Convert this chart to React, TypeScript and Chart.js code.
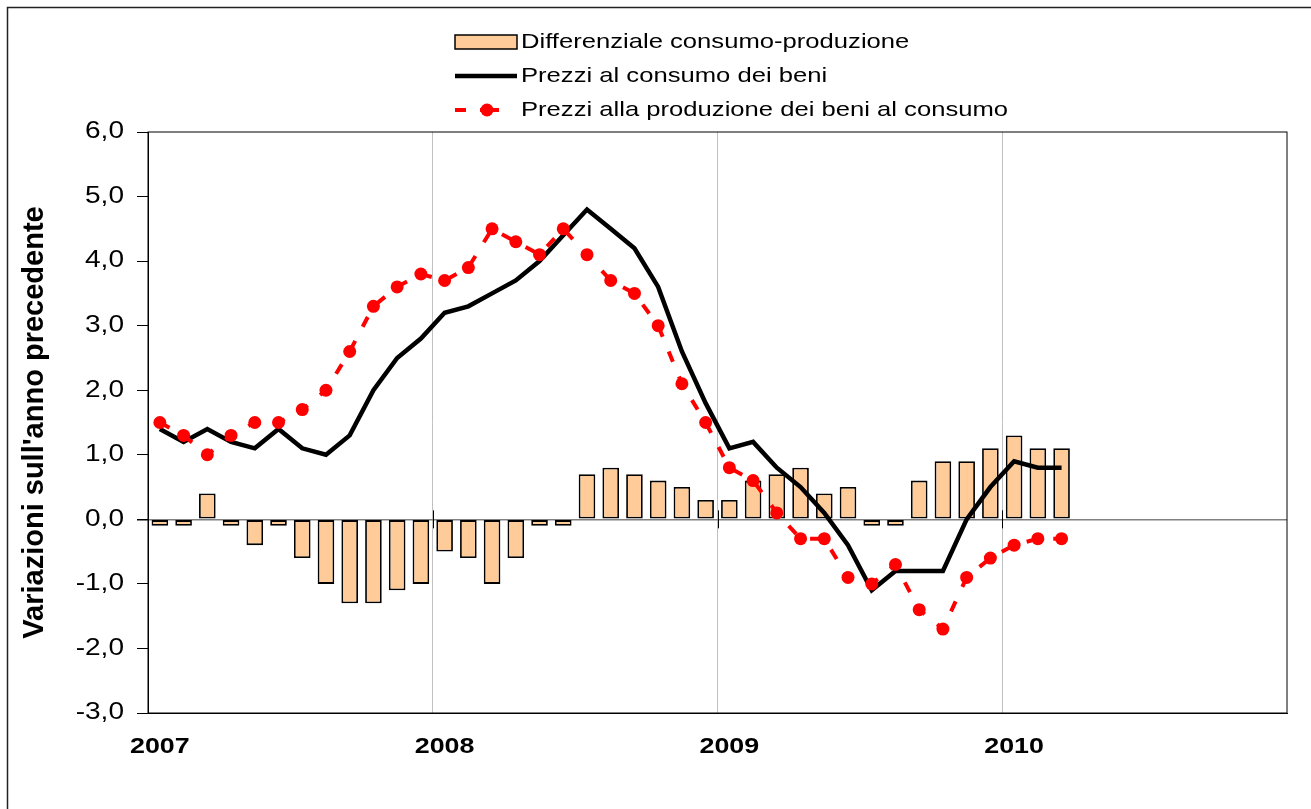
import React, { useEffect, useRef } from 'react';
import { Chart, registerables } from 'chart.js';

Chart.register(...registerables);

const W = 1311;
const H = 809;
const STRETCH = 1.22;
const FONT = '"Liberation Sans", Arial, Helvetica, sans-serif';

const yearLabels = ['2007', '2008', '2009', '2010'];
const monthNames = ['gen', 'feb', 'mar', 'apr', 'mag', 'giu', 'lug', 'ago', 'set', 'ott', 'nov', 'dic'];
const categories = yearLabels.map((y) => monthNames.map((m) => `${m} ${y}`)).reduce((a, b) => a.concat(b), [] as string[]);

const seriesNames = [
  'Differenziale consumo-produzione',
  'Prezzi al consumo dei beni',
  'Prezzi alla produzione dei beni al consumo',
];
const yTitle = "Variazioni sull'anno precedente";

const differenziale = [
  -0.1, -0.1, 0.4, -0.1, -0.4, -0.1, -0.6, -1.0, -1.3, -1.3, -1.1, -1.0,
  -0.5, -0.6, -1.0, -0.6, -0.1, -0.1, 0.7, 0.8, 0.7, 0.6, 0.5, 0.3,
  0.3, 0.6, 0.7, 0.8, 0.4, 0.5, -0.1, -0.1, 0.6, 0.9, 0.9, 1.1,
  1.3, 1.1, 1.1,
];

const prezziConsumo = [
  1.4, 1.2, 1.4, 1.2, 1.1, 1.4, 1.1, 1.0, 1.3, 2.0, 2.5, 2.8,
  3.2, 3.3, 3.5, 3.7, 4.0, 4.4, 4.8, 4.5, 4.2, 3.6, 2.6, 1.8,
  1.1, 1.2, 0.8, 0.5, 0.1, -0.4, -1.1, -0.8, -0.8, -0.8, 0.0, 0.5,
  0.9, 0.8, 0.8,
];

const prezziProduzione = [
  1.5, 1.3, 1.0, 1.3, 1.5, 1.5, 1.7, 2.0, 2.6, 3.3, 3.6, 3.8,
  3.7, 3.9, 4.5, 4.3, 4.1, 4.5, 4.1, 3.7, 3.5, 3.0, 2.1, 1.5,
  0.8, 0.6, 0.1, -0.3, -0.3, -0.9, -1.0, -0.7, -1.4, -1.7, -0.9, -0.6,
  -0.4, -0.3, -0.3,
];

const yMin = -3;
const yMax = 6;

// The reference picture is horizontally stretched; widen horizontal text to match.
function patchContext(ctx: any) {
  if (ctx.__stretched) return;
  ctx.__stretched = true;
  const orig = ctx.fillText;
  ctx.fillText = function (text: string, x: number, y: number, maxWidth?: number) {
    const t = this.getTransform();
    const rotated = Math.abs(t.b) > 1e-6 || Math.abs(t.c) > 1e-6;
    if (rotated) {
      if (maxWidth !== undefined && maxWidth !== null) return orig.call(this, text, x, y, maxWidth);
      return orig.call(this, text, x, y);
    }
    this.save();
    this.translate(x, y);
    this.scale(STRETCH, 1);
    orig.call(this, text, 0, 0);
    this.restore();
  };
}

const decorPlugin = {
  id: 'decor',
  beforeDatasetsDraw(chart: any) {
    const { ctx, chartArea: a, scales } = chart;
    const xs = scales.x;
    const ys = scales.y;
    const y0 = ys.getPixelForValue(0);
    ctx.save();
    ctx.strokeStyle = '#000';
    ctx.lineWidth = 1;
    ctx.strokeRect(a.left, a.top, a.right - a.left, a.bottom - a.top);
    for (let k = 1; k < yearLabels.length; k++) {
      const x = Math.round((xs.getPixelForValue(k * 12 - 1) + xs.getPixelForValue(k * 12)) / 2) + 0.5;
      ctx.beginPath();
      ctx.moveTo(x, y0 - 9);
      ctx.lineTo(x, y0 + 9);
      ctx.stroke();
    }
    ctx.restore();
  },
  afterDraw(chart: any) {
    const ctx = chart.ctx;
    ctx.save();
    ctx.strokeStyle = '#222';
    ctx.lineWidth = 1.5;
    ctx.strokeRect(7.5, 7.5, W + 40, H + 40);

    const lx0 = 455;
    const lx1 = 517;
    const tx = 521;
    const rows = [42, 76, 110];

    ctx.fillStyle = '#FFCC99';
    ctx.fillRect(lx0, rows[0] - 7, lx1 - lx0, 14);
    ctx.strokeStyle = '#000';
    ctx.lineWidth = 1.5;
    ctx.strokeRect(lx0, rows[0] - 7, lx1 - lx0, 14);

    ctx.beginPath();
    ctx.lineWidth = 4.5;
    ctx.strokeStyle = '#000';
    ctx.moveTo(lx0, rows[1]);
    ctx.lineTo(lx1, rows[1]);
    ctx.stroke();

    ctx.beginPath();
    ctx.strokeStyle = '#FF0000';
    ctx.lineWidth = 4;
    ctx.moveTo(lx0, rows[2]);
    ctx.lineTo(lx0 + 11, rows[2]);
    ctx.moveTo(480, rows[2]);
    ctx.lineTo(499, rows[2]);
    ctx.stroke();
    ctx.beginPath();
    ctx.fillStyle = '#FF0000';
    ctx.arc(487, rows[2], 6.5, 0, Math.PI * 2);
    ctx.fill();

    ctx.fillStyle = '#000';
    ctx.font = `21px ${FONT}`;
    ctx.textAlign = 'left';
    ctx.textBaseline = 'middle';
    seriesNames.forEach((n, i) => ctx.fillText(n, tx, rows[i]));
    ctx.restore();
  },
};

export default function App() {
  const ref = useRef<HTMLCanvasElement>(null);

  useEffect(() => {
    document.body.style.margin = '0';
    const canvas = ref.current!;
    const ctx = canvas.getContext('2d');
    patchContext(ctx);

    const chart = new Chart(canvas, {
      type: 'bar',
      data: {
        labels: categories,
        datasets: [
          {
            type: 'line',
            label: seriesNames[2],
            data: prezziProduzione,
            borderColor: '#FF0000',
            borderWidth: 4,
            borderDash: [11, 16],
            borderCapStyle: 'butt',
            pointRadius: 6.5,
            pointBackgroundColor: '#FF0000',
            pointBorderColor: '#FF0000',
            pointBorderWidth: 0,
            tension: 0,
            fill: false,
            order: 1,
          },
          {
            type: 'line',
            label: seriesNames[1],
            data: prezziConsumo,
            borderColor: '#000000',
            borderWidth: 4.5,
            borderJoinStyle: 'miter',
            pointRadius: 0,
            tension: 0,
            fill: false,
            order: 2,
          },
          {
            type: 'bar',
            label: seriesNames[0],
            data: differenziale,
            backgroundColor: '#FFCC99',
            borderColor: '#000000',
            borderWidth: 1.8,
            borderSkipped: false,
            categoryPercentage: 1,
            barPercentage: 0.7,
            order: 3,
          },
        ],
      },
      options: {
        animation: false,
        responsive: false,
        events: [],
        layout: { padding: { top: 132, right: 24, left: 0, bottom: 0 } },
        plugins: {
          legend: { display: false },
          tooltip: { enabled: false },
          title: { display: false },
        },
        scales: {
          x: {
            type: 'category',
            offset: true,
            grid: {
              offset: true,
              drawTicks: false,
              color: (c: any) =>
                typeof c.index === 'number' && c.index > 0 && c.index < categories.length && c.index % 12 === 0
                  ? '#C0C0C0'
                  : 'rgba(0,0,0,0)',
              lineWidth: 1,
            },
            border: { display: true, color: '#000', width: 1 },
            ticks: {
              autoSkip: false,
              maxRotation: 0,
              minRotation: 0,
              padding: 21,
              color: '#000',
              font: { family: FONT, size: 22, weight: 'bold' },
              callback: (_v: any, i: number) => (i % 12 === 0 ? yearLabels[i / 12] : ''),
            },
            afterFit: (s: any) => {
              s.height = 96;
              s.paddingLeft = 0;
              s.paddingRight = 0;
            },
          },
          y: {
            min: yMin,
            max: yMax,
            ticks: {
              stepSize: 1,
              padding: 13,
              color: '#000',
              font: { family: FONT, size: 23 },
              callback: (v: any) => Number(v).toFixed(1).replace('.', ','),
            },
            grid: {
              color: (c: any) => (c.tick && c.tick.value === 0 ? '#808080' : 'rgba(0,0,0,0)'),
              lineWidth: (c: any) => (c.tick && c.tick.value === 0 ? 1.5 : 1),
              tickColor: '#000',
              tickLength: 11,
              drawTicks: true,
            },
            border: { display: true, color: '#000', width: 1 },
            title: {
              display: true,
              text: yTitle,
              color: '#000',
              font: { family: FONT, size: 29, weight: 'bold' },
              padding: { top: 18, bottom: 0 },
            },
            afterFit: (s: any) => {
              s.width = 148;
              s.paddingTop = 0;
              s.paddingBottom = 0;
            },
          },
        },
      },
      plugins: [decorPlugin],
    } as any);

    return () => chart.destroy();
  }, []);

  return (
    <div style={{ width: W, height: H, position: 'relative', background: '#fff', overflow: 'hidden' }}>
      <canvas ref={ref} width={W} height={H} style={{ width: W, height: H, display: 'block' }} />
    </div>
  );
}
